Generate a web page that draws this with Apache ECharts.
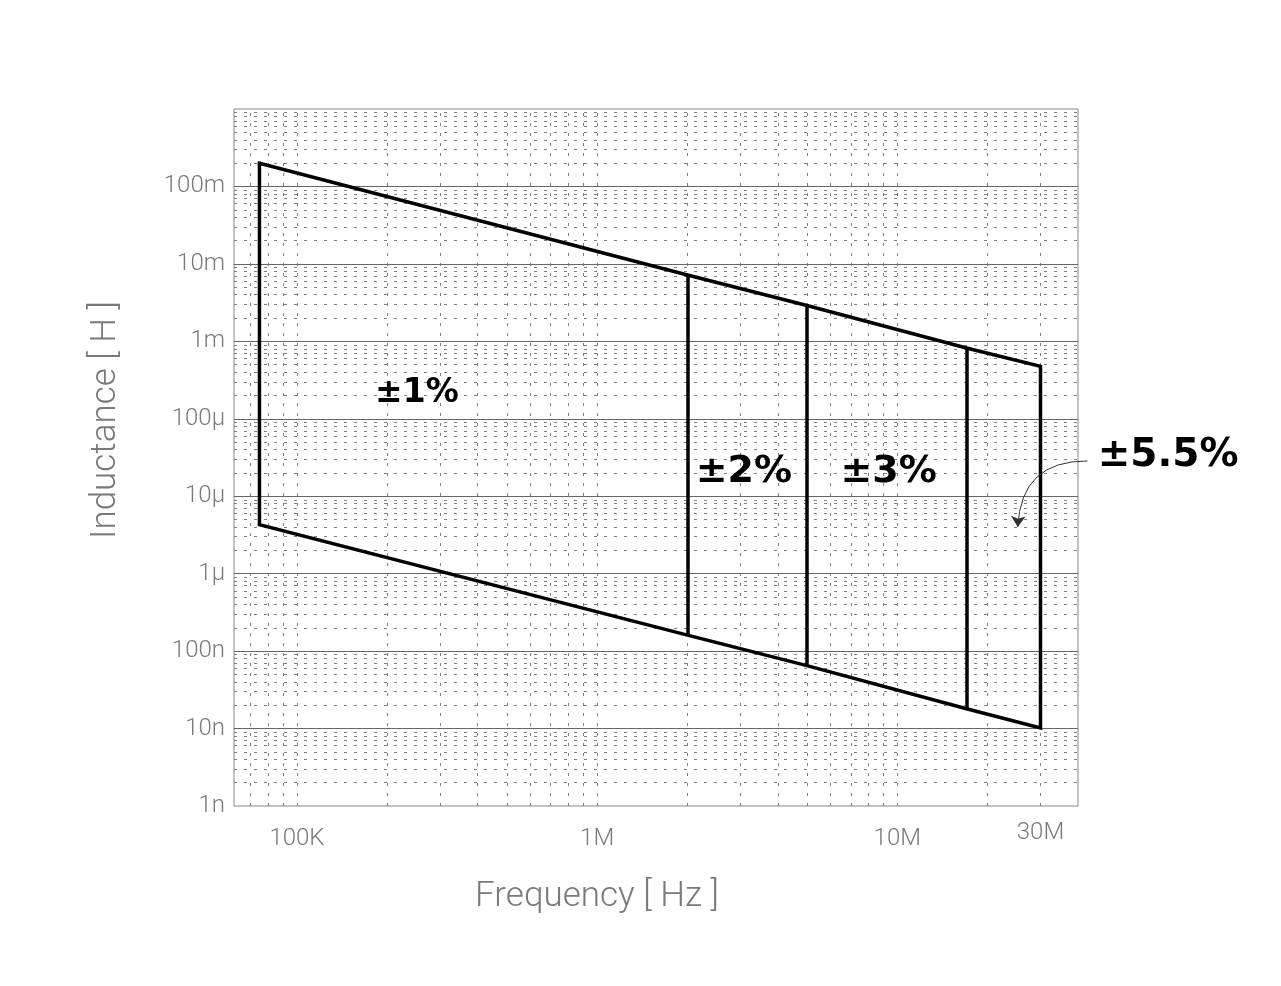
<!DOCTYPE html>
<html><head><meta charset="utf-8">
<script src="https://cdn.jsdelivr.net/npm/echarts@6/dist/echarts.min.js"></script>
<style>html,body{margin:0;padding:0;background:#fff}#c{width:1281px;height:986px}</style>
</head><body><div id="c"></div><script>
// ---- data ----
const freqs = [75e3, 2e6, 5e6, 17e6, 30e6];              // Hz, boundaries of accuracy zones
const upperL = [0.2, 7.2e-3, 2.9e-3, 0.82e-3, 0.475e-3];  // H, upper limit at each boundary
const lowerL = [4.3e-6, 161e-9, 65e-9, 18e-9, 10.2e-9];   // H, lower limit at each boundary
const xTickValues = [1e5, 1e6, 1e7, 3e7];
const xTickLabels = ['100K', '1M', '10M', '30M'];
const yTickValues = [1e-9, 1e-8, 1e-7, 1e-6, 1e-5, 1e-4, 1e-3, 1e-2, 1e-1];
const yTickLabels = ['1n', '10n', '100n', '1\u03bc', '10\u03bc', '100\u03bc', '1m', '10m', '100m'];
const xRange = [61.7e3, 40e6];
const yRange = [1e-9, 1];
const annoTexts = ['\u00b11%', '\u00b12%', '\u00b13%', '\u00b15.5%'];
const annoFreqs = [182e3, 2.13e6, 6.47e6, 46.5e6];
const annoInd = [215e-6, 20.5e-6, 20.5e-6, 33e-6];
const arrowFrom = [43e6, 28.5e-6];
const arrowTo = [25.2e6, 4.0e-6];

// ---- grid line positions (axis structure) ----
const hMajor = [], hMinor = [], vMinor = [];
for (let k = -9; k <= 0; k++) {
  const d = Math.pow(10, k);
  if (k > -9 && k < 0) hMajor.push(d);
  if (k < 0) for (let m = 2; m <= 9; m++) hMinor.push(m * d);
}
for (let k = 4; k <= 7; k++) for (let m = 1; m <= 9; m++) {
  const v = m * Math.pow(10, k);
  if (v > xRange[0] * 1.001 && v < xRange[1] * 0.999) vMinor.push(v);
}

function lookup(vals, labels, v) {
  for (let i = 0; i < vals.length; i++) if (Math.abs(Math.log10(v) - Math.log10(vals[i])) < 1e-4) return labels[i];
  return '';
}

// outer polygon
const outline = [];
for (let i = 0; i < freqs.length; i++) outline.push([freqs[i], upperL[i]]);
for (let i = freqs.length - 1; i >= 0; i--) outline.push([freqs[i], lowerL[i]]);
outline.push([freqs[0], upperL[0]]);
const inner = [];
for (let i = 1; i < freqs.length - 1; i++) inner.push({ coords: [[freqs[i], lowerL[i]], [freqs[i], upperL[i]]] });

const annoSizes = [33, 38, 38, 39];
const labelFont = { fontFamily: 'Roboto', fontWeight: 300, fontSize: 24, color: '#7a7a7a' };

const chart = echarts.init(document.getElementById('c'), null, { renderer: 'canvas' });
chart.setOption({
  animation: false,
  backgroundColor: '#fff',
  grid: { left: 234, top: 109, width: 844, height: 697, show: true, borderColor: '#888', borderWidth: 1, backgroundColor: 'transparent' },
  xAxis: {
    type: 'log', logBase: 10, min: xRange[0], max: xRange[1],
    axisLine: { show: false }, axisTick: { show: false }, splitLine: { show: false },
    axisLabel: Object.assign({
      customValues: xTickValues, margin: 15,
      formatter: v => {
        const t = lookup(xTickValues, xTickLabels, v);
        return Math.abs(v - 3e7) < 1 ? '{hi|' + t + '}' : '{lo|' + t + '}';
      },
      rich: {
        hi: { fontFamily: 'Roboto', fontWeight: 300, fontSize: 24, color: '#7a7a7a' },
        lo: { fontFamily: 'Roboto', fontWeight: 300, fontSize: 24, color: '#7a7a7a', padding: [6, 0, 0, 0] }
      }
    }, labelFont),
    name: 'Frequency [ Hz ]', nameLocation: 'middle', nameGap: 74,
    nameTextStyle: { fontFamily: 'Roboto', fontWeight: 300, fontSize: 35, color: '#7a7a7a', padding: [0, 118, 0, 0] }
  },
  yAxis: {
    type: 'log', logBase: 10, min: yRange[0], max: yRange[1],
    axisLine: { show: false }, axisTick: { show: false }, splitLine: { show: false },
    axisLabel: Object.assign({ customValues: yTickValues, margin: 9, formatter: v => lookup(yTickValues, yTickLabels, v) }, labelFont),
    name: 'Inductance [ H ]', nameLocation: 'middle', nameGap: 110, nameRotate: 90,
    nameTextStyle: { fontFamily: 'Roboto', fontWeight: 300, fontSize: 35, color: '#7a7a7a', padding: [0, 0, 0, 75] }
  },
  series: [
    { type: 'lines', coordinateSystem: 'cartesian2d', silent: true, z: 1,
      lineStyle: { color: '#808080', width: 1, type: [3, 7], opacity: 1 },
      data: hMinor.map(v => ({ coords: [[xRange[0], v], [xRange[1], v]] })) },
    { type: 'lines', coordinateSystem: 'cartesian2d', silent: true, z: 1,
      lineStyle: { color: '#808080', width: 1, type: [3, 7], opacity: 1 },
      data: vMinor.map(v => ({ coords: [[v, yRange[0]], [v, yRange[1]]] })) },
    { type: 'lines', coordinateSystem: 'cartesian2d', silent: true, z: 2,
      lineStyle: { color: '#666', width: 1, type: 'solid', opacity: 1 },
      data: hMajor.map(v => ({ coords: [[xRange[0], v], [xRange[1], v]] })) },
    { type: 'line', data: outline, symbol: 'none', silent: true, z: 5,
      lineStyle: { color: '#000', width: 3.5, join: 'miter', cap: 'square' } },
    { type: 'lines', coordinateSystem: 'cartesian2d', silent: true, z: 5,
      lineStyle: { color: '#000', width: 3.5, opacity: 1 }, data: inner },
    { type: 'lines', coordinateSystem: 'cartesian2d', silent: true, z: 6, clip: false,
      symbol: ['none', 'arrow'], symbolSize: [0, 11],
      lineStyle: { color: '#333', width: 1, curveness: -0.48, opacity: 1 },
      data: [{ coords: [arrowFrom, arrowTo] }] },
    { type: 'scatter', silent: true, z: 7, clip: false, symbolSize: 0,
      itemStyle: { opacity: 1 },
      data: annoTexts.map((t, i) => ({
        value: [annoFreqs[i], annoInd[i]], name: t,
        label: { show: true, position: 'right', distance: 0, formatter: t, opacity: 1,
          fontFamily: 'DejaVu Sans', fontWeight: 'bold', fontSize: annoSizes[i], color: '#000' }
      })) }
  ]
});
</script></body></html>
